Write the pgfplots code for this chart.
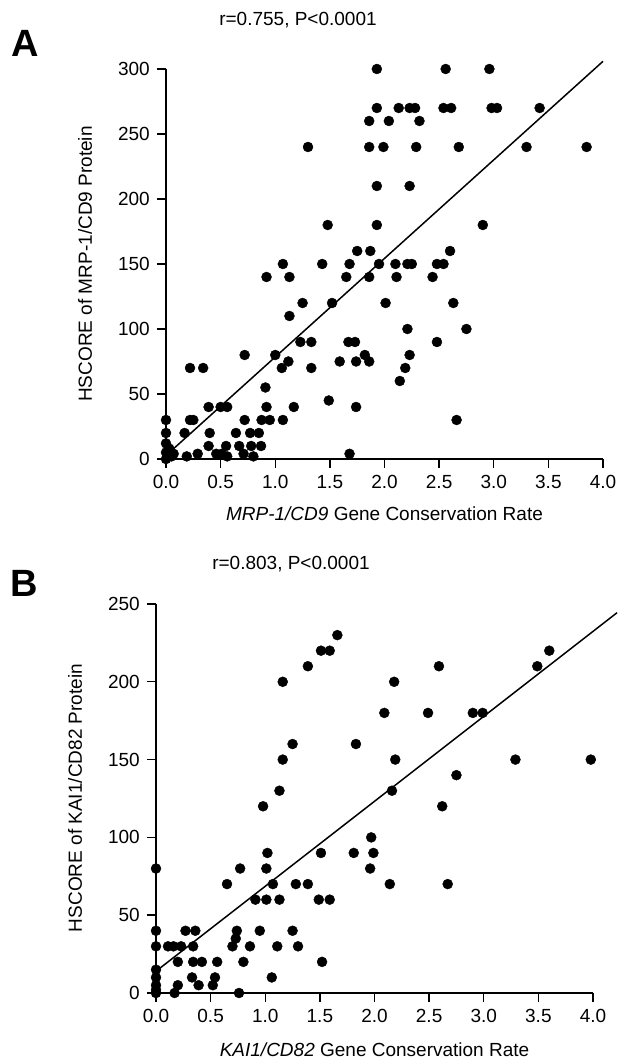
\documentclass[border=0pt]{standalone}
\usepackage{fontspec}
\setmainfont{Liberation Sans}
\usepackage{pgfplots}
\pgfplotsset{compat=1.18}
\begin{document}
\begin{tikzpicture}
\useasboundingbox (0pt,0pt) rectangle (627pt,1060pt);
\pgfplotsset{
  myax/.style={
    scale only axis, width=437pt, height=390pt,
    axis lines=left, axis line style={-, line width=1.6pt},
    xmin=0, xmax=4, xtick={0,0.5,1,1.5,2,2.5,3,3.5,4},
    tick align=outside, major tick length=9pt,
    tick style={line width=1.4pt, black},
    /pgf/number format/assume math mode=true,
    ticklabel style={font=\fontsize{19}{22}\selectfont},
    x tick label style={/pgf/number format/.cd, fixed, fixed zerofill, precision=1, /tikz/.cd, anchor=north, inner sep=0pt, yshift=-7pt},
    y tick label style={anchor=east, inner sep=0pt, xshift=-7pt},
    clip=false,
  },
  dots/.style={only marks, mark=*, mark size=5pt, black},
  fit/.style={no marks, black, line width=1.5pt},
}
% ---------- Panel A ----------
\begin{axis}[myax, at={(166pt,601pt)}, anchor=south west, height=390pt,
  ymin=0, ymax=300, ytick={0,50,100,150,200,250,300}]
\addplot[dots] coordinates {
(0,30) (0,20) (0,12) (0,5) (0.03,8) (0.07,4) (0.05,2) (0,0)
(0.17,20) (0.19,2) (0.22,70) (0.22,30) (0.25,30) (0.29,4) (0.34,70)
(0.39,40) (0.40,20) (0.39,10) (0.46,4) (0.50,40) (0.56,40) (0.55,10)
(0.56,2) (0.51,4) (0.64,20) (0.67,10) (0.72,30) (0.72,80) (0.71,4)
(0.77,20) (0.78,10) (0.80,2) (0.85,20) (0.875,30) (0.87,10) (0.91,55)
(0.92,40) (0.95,30) (0.92,140) (1.0,80) (1.06,70) (1.07,30) (1.07,150)
(1.12,75) (1.13,140) (1.13,110) (1.17,40) (1.25,120) (1.23,90) (1.33,90)
(1.33,70) (1.30,240) (1.43,150) (1.48,180) (1.49,45) (1.52,120) (1.59,75)
(1.65,140) (1.68,150) (1.68,4) (1.67,90) (1.73,90) (1.74,75) (1.74,40)
(1.75,160) (1.82,80) (1.86,75) (1.86,140) (1.87,160) (1.86,240) (1.86,260)
(1.93,270) (1.93,300) (1.93,210) (1.93,180) (1.95,150)
(2.04,260) (1.99,240) (2.13,270) (2.23,270) (2.28,270) (2.32,260) (2.29,240)
(2.23,210) (2.56,300) (2.96,300) (2.54,270) (2.61,270) (2.98,270) (3.03,270)
(3.42,270) (2.68,240) (3.30,240) (3.85,240) (2.90,180) (2.60,160) (2.10,150)
(2.21,150) (2.25,150) (2.48,150) (2.54,150) (2.11,140) (2.44,140) (2.01,120)
(2.63,120) (2.21,100) (2.75,100) (2.48,90) (2.23,80) (2.19,70) (2.14,60)
(2.66,30)
};
\addplot[fit] coordinates {(0.04,5.7) (4.0,305.9)};
\end{axis}
% ---------- Panel B ----------
\begin{axis}[myax, at={(156pt,67pt)}, anchor=south west, height=389pt,
  ymin=0, ymax=250, ytick={0,50,100,150,200,250}]
\addplot[dots] coordinates {
(0,80) (0,40) (0,30) (0,15) (0,10) (0,5) (0,2) (0,0)
(0.11,30) (0.16,30) (0.23,30) (0.20,20) (0.20,5) (0.17,0) (0.27,40) (0.36,40)
(0.34,30) (0.34,20) (0.42,20) (0.33,10) (0.39,5) (0.52,5) (0.54,10) (0.56,20)
(0.65,70) (0.70,30) (0.74,40) (0.73,35) (0.76,0) (0.77,80) (0.80,20) (0.86,30)
(0.91,60) (0.95,40) (0.98,120) (1.01,60) (1.01,80) (1.02,90) (1.07,70) (1.06,10)
(1.11,30) (1.13,60) (1.13,130) (1.16,150) (1.16,200) (1.25,160) (1.25,40)
(1.28,70) (1.30,30) (1.39,70) (1.39,210) (1.49,60) (1.59,60) (1.51,90) (1.52,20)
(1.51,220) (1.59,220) (1.66,230) (1.81,90) (1.83,160) (1.97,100) (1.96,80)
(1.99,90) (2.14,70) (2.67,70) (2.09,180) (2.18,200) (2.19,150) (2.16,130)
(2.59,210) (2.49,180) (2.62,120) (2.75,140) (2.90,180) (2.99,180) (3.29,150)
(3.49,210) (3.60,220) (3.98,150)
};
\addplot[fit] coordinates {(0,14) (4.22,244.4)};
\end{axis}
% ---------- texts ----------
\node[font=\fontsize{38}{40}\selectfont\bfseries] at (25.5pt,1017pt) {A};
\node[font=\fontsize{38}{40}\selectfont\bfseries] at (24pt,477pt) {B};
\node[font=\fontsize{19}{22}\selectfont] at (298pt,1040pt) {r=0.755, P<0.0001};
\node[font=\fontsize{19}{22}\selectfont] at (291pt,496pt) {r=0.803, P<0.0001};
\node[font=\fontsize{19}{22}\selectfont, rotate=90] at (85pt,796pt) {HSCORE of MRP-1/CD9 Protein};
\node[font=\fontsize{19}{22}\selectfont, rotate=90] at (75pt,262pt) {HSCORE of KAI1/CD82 Protein};
\node[font=\fontsize{19}{22}\selectfont] at (384.5pt,546pt) {\textit{MRP-1/CD9} Gene Conservation Rate};
\node[font=\fontsize{19}{22}\selectfont] at (374.5pt,10pt) {\textit{KAI1/CD82} Gene Conservation Rate};
\end{tikzpicture}
\end{document}
